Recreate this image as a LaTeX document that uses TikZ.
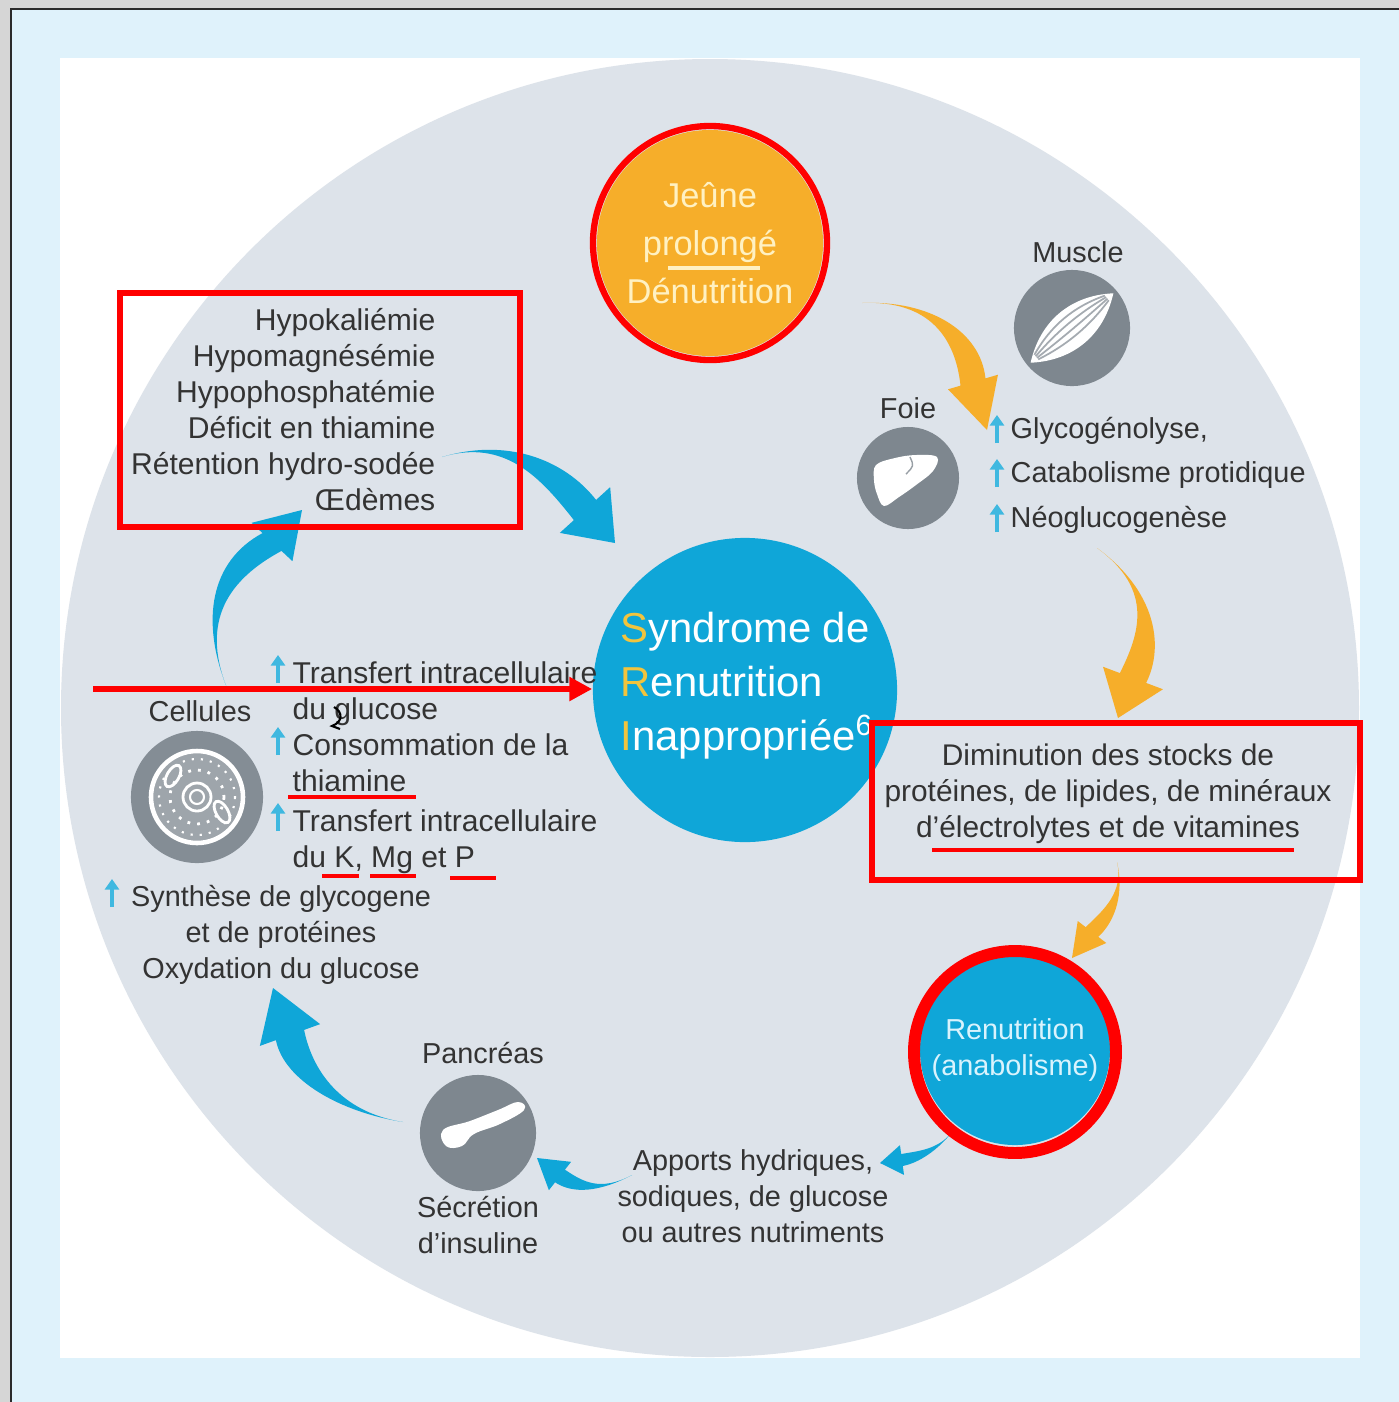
\documentclass[tikz,border=0pt]{standalone}
\usepackage{fontspec}
\setmainfont{Liberation Sans}
\usetikzlibrary{calc,arrows.meta}

\definecolor{fond}{HTML}{D6D6D6}
\definecolor{bord}{HTML}{2A2A2A}
\definecolor{cadre}{HTML}{DFF2FB}
\definecolor{disque}{HTML}{DDE3EA}
\definecolor{texte}{HTML}{333333}
\definecolor{bleu}{HTML}{0FA6D8}
\definecolor{orange}{HTML}{F6AE2A}
\definecolor{creme}{HTML}{FFF1C2}
\definecolor{jaune}{HTML}{F2C43D}
\definecolor{icone}{HTML}{7E878F}
\definecolor{marque}{HTML}{FF0000}

% fleche effilee : style, queue, c1, c2, base de la pointe, pointe, demi-largeur, demi-pointe
\newcommand\swoosh[8][]{%
  \path ($(#5)!#7!90:(#6)$) coordinate (sw1) ($(#5)!#7!-90:(#6)$) coordinate (sw2)
        ($(#5)!#8!90:(#6)$) coordinate (sh1) ($(#5)!#8!-90:(#6)$) coordinate (sh2);
  \fill[#1] (#2) .. controls (#3) and ($(#4)+(sw1)-(#5)$) .. (sw1) -- (sh1) -- (#6)
        -- (sh2) -- (sw2) .. controls ($(#4)+(sw2)-(#5)$) and (#3) .. (#2) -- cycle;
}

\begin{document}
\begin{tikzpicture}[x=0.01cm,y=-0.01cm,
    lbl/.style={font=\fontsize{8.2}{10.24}\selectfont,text=texte,inner sep=0},
    icon/.style={circle,fill=icone,inner sep=0},
    rouge/.style={draw=marque,line width=1.8pt},
    souligne/.style={draw=marque,line width=1.4pt},
    hausse/.style={draw=bleu!80!white,line width=1.3pt,-{Triangle[length=3pt,width=4pt]}},
    fbleu/.style={fill=bleu},
    forange/.style={fill=orange}]
  \useasboundingbox (0,0) rectangle (1399,1402);
  % fond et cadre
  \fill[fond] (0,0) rectangle (1399,1402);
  \fill[bord] (10,8) rectangle (1399,1402);
  \fill[cadre] (12,10) rectangle (1399,1402);
  \fill[white] (60,58) rectangle (1360,1358);
  \fill[disque] (710,708) circle[radius=649];

  % Jeune prolonge
  \node[circle,fill=orange,minimum size=2.26cm,inner sep=0,text=creme,align=center,
        font=\fontsize{9.8}{13.7}\selectfont] (jeune) at (710,243) {Jeûne\\prolongé\\Dénutrition};
  \draw[creme,line width=0.9pt] (668,268) -- (760,268);

  % SRI
  \node[circle,fill=bleu,minimum size=3.04cm,inner sep=0] (sri) at (745,690) {};
  \node[anchor=west,align=left,inner sep=0,text=white,font=\fontsize{11.9}{15.4}\selectfont] (sritxt) at (620,686)
    {\textcolor{jaune}{S}yndrome de\\\textcolor{jaune}{R}enutrition\\\textcolor{jaune}{I}nappropriée\textsuperscript{6}};

  % Renutrition
  \node[circle,fill=bleu,minimum size=1.9cm,inner sep=0,text=cyan!15!white,align=center,
        font=\fontsize{8.2}{10.24}\selectfont] (renut) at (1015,1050) {Renutrition\\(anabolisme)};

  % Muscle
  \node[lbl] (muscletxt) at (1078,252) {Muscle};
  \node[icon,minimum size=1.16cm] (muscle) at (1072,328) {};
  \begin{scope}[shift={(muscle.center)},rotate=40]
    \fill[white] (-54,0) .. controls (-20,26) and (20,26) .. (54,0) .. controls (20,-26) and (-20,-26) .. (-54,0);
    \foreach \k in {-11,-5,1,7}
      \draw[icone!70!white,line width=0.5pt] (-46,\k/3) .. controls (-15,\k*1.4) and (15,\k*1.4) .. (46,\k/3);
  \end{scope}

  % Foie
  \node[lbl] (foietxt) at (908,408) {Foie};
  \node[icon,minimum size=1.02cm] (foie) at (908,478) {};
  \fill[white] plot[smooth cycle,tension=0.6] coordinates
    {(876,465) (895,458) (916,455) (937,457) (933,471) (916,485) (899,497) (884,506) (877,494) (874,480)};
  \draw[icone!80!white,line width=0.4pt] (910,457) .. controls (914,466) .. (906,474);

  % liste catabolisme
  \node[lbl,anchor=west,align=left,font=\fontsize{8.2}{12.66}\selectfont] (catab) at (1010,475)
    {Glycogénolyse,\\Catabolisme protidique\\Néoglucogenèse};
  \foreach \y in {431,475,520}
    \draw[hausse] (997,\y+12) -- (997,\y-16);

  % Diminution des stocks
  \node[lbl,align=center,font=\fontsize{8.5}{10.24}\selectfont] (stocks) at (1108,794)
    {Diminution des stocks de\\protéines, de lipides, de minéraux\\d'électrolytes et de vitamines};

  % Apports
  \node[lbl,align=center] (apports) at (753,1196)
    {Apports hydriques,\\sodiques, de glucose\\ou autres nutriments};

  % Pancreas
  \node[lbl] (pancreastxt) at (483,1053) {Pancréas};
  \node[icon,minimum size=1.16cm] (pancreas) at (478,1133) {};
  \fill[white] plot[smooth cycle,tension=0.7] coordinates
    {(443,1130) (470,1121) (498,1110) (518,1102) (524,1110) (500,1124) (474,1134) (462,1146) (446,1146)};
  \node[lbl,align=center] (insuline) at (478,1225) {Sécrétion\\d'insuline};

  % Synthese
  \node[lbl,align=center] (synth) at (281,935)
    {Synthèse de glycogene\\et de protéines\\Oxydation du glucose};
  \draw[hausse] (112,907) -- (112,879);

  % Cellules
  \node[lbl] (celltxt) at (200,711) {Cellules};
  \node[icon,fill=icone!95!white,minimum size=1.32cm] (cellule) at (197,797) {};
  \fill[icone!75!white] (cellule.center) circle[radius=45];
  \draw[white,line width=1.3pt] (cellule.center) circle[radius=46];
  \draw[white,line width=0.8pt] (cellule.center) circle[radius=14];
  \draw[white,line width=0.6pt] (cellule.center) circle[radius=7];
  \draw[white,line width=0.8pt,dotted] (cellule.center) circle[radius=27];
  \draw[white,line width=0.8pt,rotate around={60:(173,776)}] (173,776) ellipse[x radius=12,y radius=6];
  \draw[white,line width=0.8pt,rotate around={-60:(222,812)}] (222,812) ellipse[x radius=12,y radius=6];
  \draw[white,line width=0.6pt,dotted] (cellule.center) circle[radius=38];

  \node[lbl,anchor=west,align=left,font=\fontsize{8.55}{10.24}\selectfont] (transfert) at (292,768)
    {Transfert intracellulaire\\du glucose\\Consommation de la\\thiamine\\[1.1pt]Transfert intracellulaire\\du K, Mg et P};
  \foreach \y in {673,745,821}
    \draw[hausse] (278,\y+10) -- (278,\y-18);

  % troubles
  \node[lbl,anchor=east,align=right,font=\fontsize{8.55}{10.24}\selectfont] (troubles) at (436,410)
    {Hypokaliémie\\Hypomagnésémie\\Hypophosphatémie\\Déficit en thiamine\\Rétention hydro-sodée\\Œdèmes};

  % fleches du cycle
  \swoosh[forange]{862,303}{930,300}{968,335}{973,382}{987,430}{0.13cm}{0.26cm}
  \swoosh[forange]{1097,548}{1155,590}{1152,640}{1133,678}{1118,718}{0.14cm}{0.32cm}
  \swoosh[forange]{1117,862}{1124,892}{1110,915}{1092,932}{1072,958}{0.08cm}{0.18cm}
  \swoosh[fbleu]{952,1132}{938,1150}{918,1157}{902,1160}{880,1163}{0.06cm}{0.15cm}
  \swoosh[fbleu]{632,1175}{600,1192}{578,1188}{560,1176}{537,1158}{0.08cm}{0.18cm}
  \swoosh[fbleu]{403,1122}{340,1112}{298,1075}{290,1035}{273,988}{0.15cm}{0.32cm}
  \swoosh[fbleu]{227,688}{200,620}{220,570}{272,542}{302,510}{0.13cm}{0.28cm}
  \swoosh[fbleu]{442,457}{505,438}{552,468}{585,510}{615,543}{0.15cm}{0.34cm}

  % annotations
  \draw[rouge] (jeune.center) circle[radius=117];
  \draw[marque,line width=3.4pt] (1015,1052) circle[radius=101];
  \draw[rouge] (120,293) rectangle (520,527);
  \draw[rouge] (872,723) rectangle (1360,880);
  \draw[souligne] (932,850) -- (1294,850);
  \coordinate (rdeb) at (93,689);
  \draw[rouge,-{Triangle[length=6.5pt,width=6.5pt]}] (rdeb) -- (rdeb -| sri.west);
  \draw[souligne] (288,797) -- (416,797);
  \draw[souligne] (322,876) -- (359,876);
  \draw[souligne] (370,876) -- (416,876);
  \draw[souligne] (450,878) -- (496,878);
  \draw[black,line width=0.6pt] (334,707) .. controls (343,712) and (343,722) .. (332,726) .. controls (336,727) .. (340,729);
\end{tikzpicture}
\end{document}
